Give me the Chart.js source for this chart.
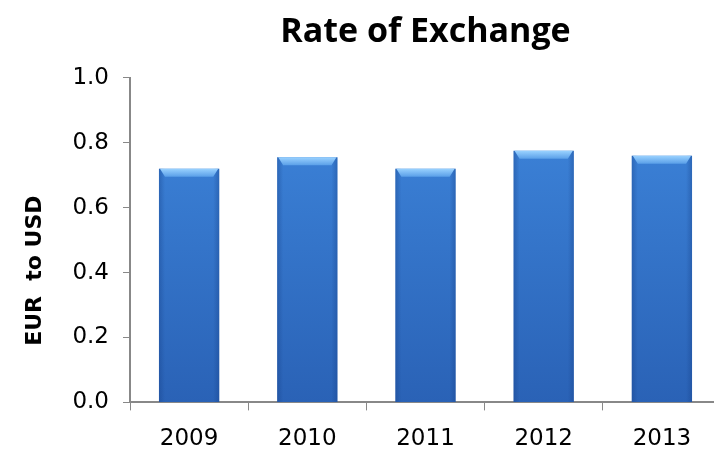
<!DOCTYPE html>
<html>
<head>
<meta charset="utf-8">
<script src="https://cdn.jsdelivr.net/npm/chart.js@4/dist/chart.umd.min.js"></script>
<style>
  html, body { margin: 0; padding: 0; background: #ffffff; overflow: hidden; }
  #wrap { width: 714px; height: 453px; overflow: hidden; }
</style>
</head>
<body>
<div id="wrap"><canvas id="c" width="721" height="453"></canvas></div>
<script>
// Yearly average EUR → USD rate
const years = ['2009', '2010', '2011', '2012', '2013'];
const eurToUsd = [0.72, 0.755, 0.72, 0.775, 0.76];
const yTicks = [0.0, 0.2, 0.4, 0.6, 0.8, 1.0];

const titleText = 'Rate of Exchange';
const yTitleText = 'EUR  to USD';

// Bevelled bar look: vertical shading on the body and a light top edge
const bevelPlugin = {
  id: 'bevel',
  afterDatasetsDraw(chart) {
    const ctx = chart.ctx;
    const meta = chart.getDatasetMeta(0);
    meta.data.forEach(bar => {
      const w = bar.width;
      const left = bar.x - w / 2;
      const right = bar.x + w / 2;
      const top = bar.y;
      const bottom = bar.base;
      ctx.save();
      // soft darkening toward the sides
      const side = ctx.createLinearGradient(left, 0, right, 0);
      side.addColorStop(0, 'rgba(20,60,130,0.35)');
      side.addColorStop(0.1, 'rgba(20,60,130,0)');
      side.addColorStop(0.9, 'rgba(20,60,130,0)');
      side.addColorStop(1, 'rgba(20,60,130,0.35)');
      ctx.fillStyle = side;
      ctx.fillRect(left, top, w, bottom - top);
      // light top bevel
      const bh = 8;
      const bevel = ctx.createLinearGradient(0, top, 0, top + bh);
      bevel.addColorStop(0, '#9ad2ff');
      bevel.addColorStop(1, '#5a9fe8');
      ctx.fillStyle = bevel;
      ctx.beginPath();
      ctx.moveTo(left + 1, top);
      ctx.lineTo(right - 1, top);
      ctx.lineTo(right - 6, top + bh);
      ctx.lineTo(left + 6, top + bh);
      ctx.closePath();
      ctx.fill();
      ctx.restore();
    });
  }
};

// Rotated axis caption left of the value axis
const yCaptionPlugin = {
  id: 'yCaption',
  afterDraw(chart) {
    const ctx = chart.ctx;
    const area = chart.chartArea;
    ctx.save();
    ctx.translate(35, area.top + (area.bottom - area.top) * 0.594);
    ctx.rotate(-Math.PI / 2);
    ctx.font = 'bold 22px "DejaVu Sans"';
    ctx.fillStyle = '#000000';
    ctx.textAlign = 'center';
    ctx.textBaseline = 'middle';
    ctx.fillText(yTitleText, 0, 0);
    ctx.restore();
  }
};

const ctx = document.getElementById('c').getContext('2d');
new Chart(ctx, {
  type: 'bar',
  data: {
    labels: years,
    datasets: [{
      data: eurToUsd,
      backgroundColor(c) {
        const area = c.chart.chartArea;
        if (!area) return '#3a7bd5';
        const g = c.chart.ctx.createLinearGradient(0, area.top, 0, area.bottom);
        g.addColorStop(0, '#3f88de');
        g.addColorStop(1, '#2a62b6');
        return g;
      },
      borderWidth: 0,
      barPercentage: 0.6,
      categoryPercentage: 0.85
    }]
  },
  options: {
    responsive: false,
    animation: false,
    devicePixelRatio: 1,
    layout: { padding: { left: 0, right: 0, top: 0, bottom: -15 } },
    plugins: {
      legend: { display: false },
      tooltip: { enabled: false },
      title: {
        display: true,
        text: titleText,
        fullSize: false,
        color: '#000000',
        font: { family: '"Open Sans"', size: 34, weight: 'bold', lineHeight: 1.2 },
        padding: { top: 12, bottom: 25 }
      }
    },
    scales: {
      x: {
        offset: true,
        grid: {
          display: true,
          offset: true,
          drawOnChartArea: false,
          drawTicks: true,
          tickLength: 8,
          color: '#888888'
        },
        border: { display: true, color: '#888888', width: 2 },
        ticks: {
          color: '#000000',
          font: { family: '"DejaVu Sans"', size: 23 },
          padding: 15
        }
      },
      y: {
        min: 0,
        max: 1,
        afterFit(s) { s.width = 130; },
        afterBuildTicks(s) { s.ticks = yTicks.map(v => ({ value: v })); },
        grid: {
          display: true,
          drawOnChartArea: false,
          drawTicks: true,
          tickLength: 7,
          color: '#888888'
        },
        border: { display: true, color: '#888888', width: 2 },
        ticks: {
          color: '#000000',
          font: { family: '"DejaVu Sans"', size: 23 },
          padding: 14,
          callback: v => Number(v).toFixed(1)
        }
      }
    }
  },
  plugins: [bevelPlugin, yCaptionPlugin]
});
</script>
</body>
</html>
